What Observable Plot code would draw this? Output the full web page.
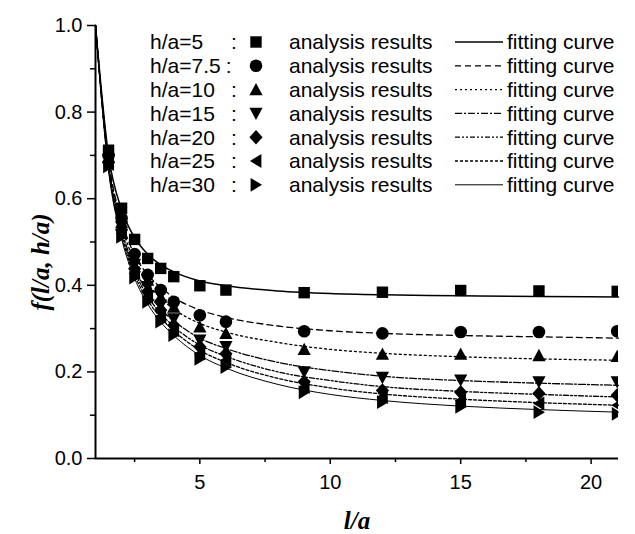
<!DOCTYPE html>
<html><head><meta charset="utf-8">
<script src="https://cdn.jsdelivr.net/npm/d3@7"></script>
<script src="https://cdn.jsdelivr.net/npm/@observablehq/plot@0.6"></script>
<style>body{margin:0;background:#fff} #chart svg{display:block}</style>
</head><body><div id="chart"></div>
<script>
// ---- data ----
const xValues = [1.5, 2, 2.5, 3, 3.5, 4, 5, 6, 9, 12, 15, 18, 21];
const seriesLabels = ["h/a=5", "h/a=7.5", "h/a=10", "h/a=15", "h/a=20", "h/a=25", "h/a=30"];
const resultsHa5   = [0.712, 0.578, 0.506, 0.462, 0.439, 0.420, 0.399, 0.389, 0.383, 0.384, 0.388, 0.387, 0.386];
const resultsHa7_5 = [0.700, 0.555, 0.472, 0.424, 0.389, 0.362, 0.331, 0.316, 0.294, 0.289, 0.292, 0.292, 0.294];
const resultsHa10  = [0.695, 0.545, 0.462, 0.412, 0.373, 0.350, 0.304, 0.289, 0.252, 0.241, 0.241, 0.238, 0.236];
const resultsHa15  = [0.690, 0.535, 0.448, 0.397, 0.354, 0.322, 0.273, 0.258, 0.200, 0.187, 0.181, 0.177, 0.177];
const resultsHa20  = [0.685, 0.528, 0.438, 0.385, 0.343, 0.308, 0.258, 0.242, 0.177, 0.157, 0.153, 0.150, 0.146];
const resultsHa25  = [0.680, 0.520, 0.428, 0.373, 0.328, 0.296, 0.242, 0.227, 0.165, 0.142, 0.134, 0.127, 0.123];
const resultsHa30  = [0.675, 0.512, 0.418, 0.362, 0.316, 0.285, 0.230, 0.211, 0.153, 0.130, 0.119, 0.107, 0.103];

const curveX = [1, 1.5, 2, 2.5, 3, 3.5, 4, 5, 6, 8, 10, 12, 15, 18, 21.05];
const fitHa5   = [1, 0.700, 0.575, 0.510, 0.472, 0.447, 0.431, 0.410, 0.399, 0.387, 0.381, 0.378, 0.376, 0.374, 0.373];
const fitHa7_5 = [1, 0.690, 0.550, 0.470, 0.425, 0.395, 0.372, 0.343, 0.326, 0.306, 0.295, 0.289, 0.284, 0.281, 0.278];
const fitHa10  = [1, 0.685, 0.540, 0.455, 0.405, 0.370, 0.345, 0.312, 0.292, 0.268, 0.252, 0.243, 0.235, 0.230, 0.227];
const fitHa15  = [1, 0.680, 0.530, 0.440, 0.385, 0.345, 0.318, 0.278, 0.254, 0.222, 0.203, 0.190, 0.180, 0.174, 0.169];
const fitHa20  = [1, 0.675, 0.522, 0.432, 0.375, 0.335, 0.305, 0.262, 0.236, 0.200, 0.180, 0.166, 0.155, 0.148, 0.142];
const fitHa25  = [1, 0.670, 0.515, 0.424, 0.366, 0.325, 0.295, 0.250, 0.222, 0.185, 0.163, 0.149, 0.137, 0.129, 0.123];
const fitHa30  = [1, 0.665, 0.508, 0.416, 0.357, 0.315, 0.284, 0.238, 0.209, 0.171, 0.148, 0.134, 0.121, 0.113, 0.107];

const xMajorTicks = [5, 10, 15, 20];
const xMinorTicks = [2.5, 7.5, 12.5, 17.5];
const yMajorTicks = [0, 0.2, 0.4, 0.6, 0.8, 1.0];
const yMinorTicks = [0.1, 0.3, 0.5, 0.7, 0.9];
const xTitle = "l/a";
const yTitle = "f(l/a, h/a)";
const legendPointText = "analysis results";
const legendLineText = "fitting curve";

// ---- custom marker symbols ----
const sym = (fn) => ({draw(ctx, size) { fn(ctx, Math.sqrt(size / Math.PI)); }});
const poly = (ctx, pts) => { ctx.moveTo(pts[0][0], pts[0][1]); for (const p of pts.slice(1)) ctx.lineTo(p[0], p[1]); ctx.closePath(); };
const symSquare = sym((c, r) => { const h = 0.95 * r; c.rect(-h, -h, 2 * h, 2 * h); });
const symCircle = sym((c, r) => { const R = 1.05 * r; c.moveTo(R, 0); c.arc(0, 0, R, 0, 2 * Math.PI); });
const symUp = sym((c, r) => poly(c, [[0, -1.1 * r], [1.1 * r, 0.95 * r], [-1.1 * r, 0.95 * r]]));
const symDown = sym((c, r) => poly(c, [[0, 1.1 * r], [1.1 * r, -0.95 * r], [-1.1 * r, -0.95 * r]]));
const symDiamond = sym((c, r) => poly(c, [[0, -1.2 * r], [1.1 * r, 0], [0, 1.2 * r], [-1.1 * r, 0]]));
const symLeft = sym((c, r) => poly(c, [[-1.0 * r, 0], [0.9 * r, -1.15 * r], [0.9 * r, 1.15 * r]]));
const symRight = sym((c, r) => poly(c, [[1.0 * r, 0], [-0.9 * r, -1.15 * r], [-0.9 * r, 1.15 * r]]));

const results = [resultsHa5, resultsHa7_5, resultsHa10, resultsHa15, resultsHa20, resultsHa25, resultsHa30];
const fits = [fitHa5, fitHa7_5, fitHa10, fitHa15, fitHa20, fitHa25, fitHa30];
const symbols = [symSquare, symCircle, symUp, symDown, symDiamond, symLeft, symRight];
const dashes = [null, "6,4", "2,3", "7,2,2,2", "5,2,2,2,2,2", "3,2", null];
const widths = [1.5, 1.3, 1.3, 1.3, 1.3, 1.3, 1.0];

const series = seriesLabels.map((label, i) => ({
  label,
  points: xValues.map((x, j) => ({x, y: results[i][j]})),
  curve: curveX.map((x, j) => ({x, y: fits[i][j]})),
  symbol: symbols[i], dash: dashes[i], width: widths[i]
}));

const marks = [];
for (const s of series) {
  marks.push(Plot.line(s.curve, {x: "x", y: "y", curve: "monotone-x", stroke: "black",
    strokeWidth: s.width, strokeDasharray: s.dash ?? undefined}));
}
for (const s of series) {
  marks.push(Plot.dot(s.points, {x: "x", y: "y", symbol: s.symbol, r: 6, fill: "black", stroke: "none", clip: true}));
}
marks.push(
  Plot.axisY({ticks: yMajorTicks, tickSize: 8, tickPadding: 5, tickFormat: d3.format(".1f"), label: null, strokeWidth: 1.5}),
  Plot.axisY({ticks: yMinorTicks, tickSize: 5, tickFormat: () => "", label: null, strokeWidth: 1.5}),
  Plot.axisX({ticks: xMajorTicks, tickSize: 6, tickPadding: 10, label: null, strokeWidth: 1.5}),
  Plot.axisX({ticks: xMinorTicks, tickSize: 4, tickFormat: () => "", label: null, strokeWidth: 1.5}),
  Plot.ruleY([yMajorTicks[0]], {stroke: "black", strokeWidth: 2}),
  Plot.ruleX([curveX[0]], {stroke: "black", strokeWidth: 2})
);

const chart = Plot.plot({
  width: 635, height: 534,
  marginLeft: 95, marginRight: 17, marginTop: 25, marginBottom: 76,
  x: {domain: [curveX[0], curveX[curveX.length - 1]]},
  y: {domain: [yMajorTicks[0], yMajorTicks[yMajorTicks.length - 1]]},
  style: {fontFamily: "Arial, 'Liberation Sans', sans-serif", fontSize: "20px", color: "black", background: "white", overflow: "visible"},
  marks
});
document.getElementById("chart").appendChild(chart);

// ---- legend & axis titles ----
const svg = d3.select(chart);
const lg = svg.append("g").attr("font-family", "Arial, 'Liberation Sans', sans-serif").attr("font-size", 21)
  .attr("fill", "black").attr("text-anchor", "start");
series.forEach((s, i) => {
  const y = 42 + i * 23.8;
  const t = lg.append("text").attr("x", 150).attr("y", y).attr("dy", "0.35em").text(s.label);
  const tw = t.node().getComputedTextLength();
  const colonX = 150 + tw + 5 > 222 ? 150 + tw + 5 : 231;
  lg.append("text").attr("x", colonX).attr("y", y).attr("dy", "0.35em").text(":");
  lg.append("path").attr("transform", `translate(256,${y})`).attr("d", d3.symbol(s.symbol, Math.PI * 36)());
  lg.append("text").attr("x", 289).attr("y", y).attr("dy", "0.35em").text(legendPointText);
  lg.append("line").attr("x1", 455).attr("x2", 503).attr("y1", y).attr("y2", y)
    .attr("stroke", "black").attr("stroke-width", s.width).attr("stroke-dasharray", s.dash);
  lg.append("text").attr("x", 507).attr("y", y).attr("dy", "0.35em").text(legendLineText);
});
svg.append("text").attr("x", 357).attr("y", 520).attr("dy", "0.35em").attr("text-anchor", "middle")
  .attr("font-family", "'Liberation Serif', 'Times New Roman', serif").attr("font-weight", "bold").attr("font-style", "italic")
  .attr("font-size", 25).text(xTitle);
svg.append("text").attr("transform", "translate(40,262) rotate(-90)").attr("dy", "0.35em").attr("text-anchor", "middle")
  .attr("font-family", "'Liberation Serif', 'Times New Roman', serif").attr("font-weight", "bold").attr("font-style", "italic")
  .attr("font-size", 25).text(yTitle);
</script></body></html>
